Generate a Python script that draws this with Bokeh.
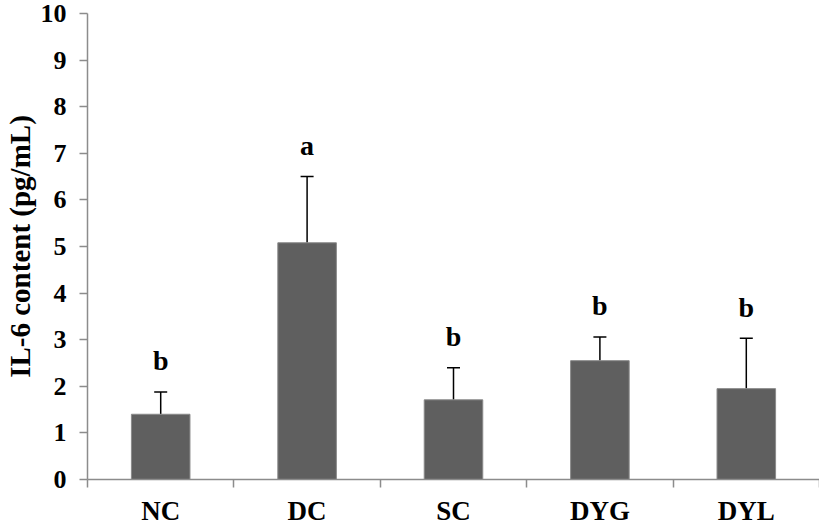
from bokeh.plotting import figure
from bokeh.models import (ColumnDataSource, Range1d, FixedTicker, Whisker, TeeHead, LinearAxis)
from bokeh.core.properties import value
from bokeh.embed import file_html
from bokeh.resources import INLINE

groups = ["NC", "DC", "SC", "DYG", "DYL"]
means = [1.40, 5.08, 1.71, 2.55, 1.95]
err_top = [1.88, 6.50, 2.40, 3.06, 3.03]
letters = ["b", "a", "b", "b", "b"]
y_ticks = [0, 1, 2, 3, 4, 5, 6, 7, 8, 9, 10]

xpos = [i + 0.5 for i in range(len(groups))]
src = ColumnDataSource(dict(x=xpos, top=means, up=err_top, lab=letters))

FONT = "Liberation Serif"

p = figure(width=819, height=528, output_backend="svg", toolbar_location=None,
           x_range=Range1d(0, len(groups)), y_range=Range1d(0, 10),
           x_axis_type=None, min_border_left=85, min_border_top=13,
           min_border_right=0, min_border_bottom=30)
p.outline_line_color = None
p.grid.visible = False
p.background_fill_color = "white"
p.border_fill_color = "white"

p.vbar(x="x", top="top", width=0.4, bottom=0, source=src,
       fill_color="#5f5f5f", line_color="#8a8a8a", line_width=1)

w = Whisker(base="x", lower="top", upper="up", source=src, dimension="height",
            line_color="black", line_width=1.5, lower_head=None,
            upper_head=TeeHead(size=13, line_color="black", line_width=1.5))
p.add_layout(w)

p.text(x="x", y="up", text="lab", source=src, text_font=value(FONT),
       text_font_style="bold", text_font_size="28px", text_align="center",
       text_baseline="middle", y_offset=-31, text_color="black")

# y axis
ya = p.yaxis[0]
ya.ticker = FixedTicker(ticks=y_ticks, minor_ticks=[])
ya.axis_line_color = "#8c8c8c"
ya.axis_line_width = 1.5
ya.major_tick_line_color = "#8c8c8c"
ya.major_tick_line_width = 1.5
ya.major_tick_in = 0
ya.major_tick_out = 8
ya.major_label_standoff = 13
ya.major_label_text_font = FONT
ya.major_label_text_font_style = "bold"
ya.major_label_text_font_size = "26px"
ya.major_label_text_color = "black"
ya.axis_label = "IL-6 content (pg/mL)"
ya.axis_label_text_font = FONT
ya.axis_label_text_font_style = "bold"
ya.axis_label_text_font_size = "29px"
ya.axis_label_text_color = "black"
ya.axis_label_standoff = 2

# x axis: ticks between categories, labels at centres
xa = LinearAxis(ticker=FixedTicker(ticks=xpos, minor_ticks=[0, 1, 2, 3, 4, 5]))
xa.major_label_overrides = {x: g for x, g in zip(xpos, groups)}
xa.axis_line_color = "#8c8c8c"
xa.axis_line_width = 1.5
xa.major_tick_line_color = None
xa.major_tick_in = 0
xa.major_tick_out = 0
xa.minor_tick_line_color = "#8c8c8c"
xa.minor_tick_line_width = 1.5
xa.minor_tick_in = 0
xa.minor_tick_out = 8
xa.major_label_standoff = 8
xa.major_label_text_font = FONT
xa.major_label_text_font_style = "bold"
xa.major_label_text_font_size = "27px"
xa.major_label_text_color = "black"
xa.axis_label_standoff = 0
xa.axis_label_text_font_size = "0px"
p.add_layout(xa, "below")

open("out.html", "w").write(file_html(p, INLINE))
